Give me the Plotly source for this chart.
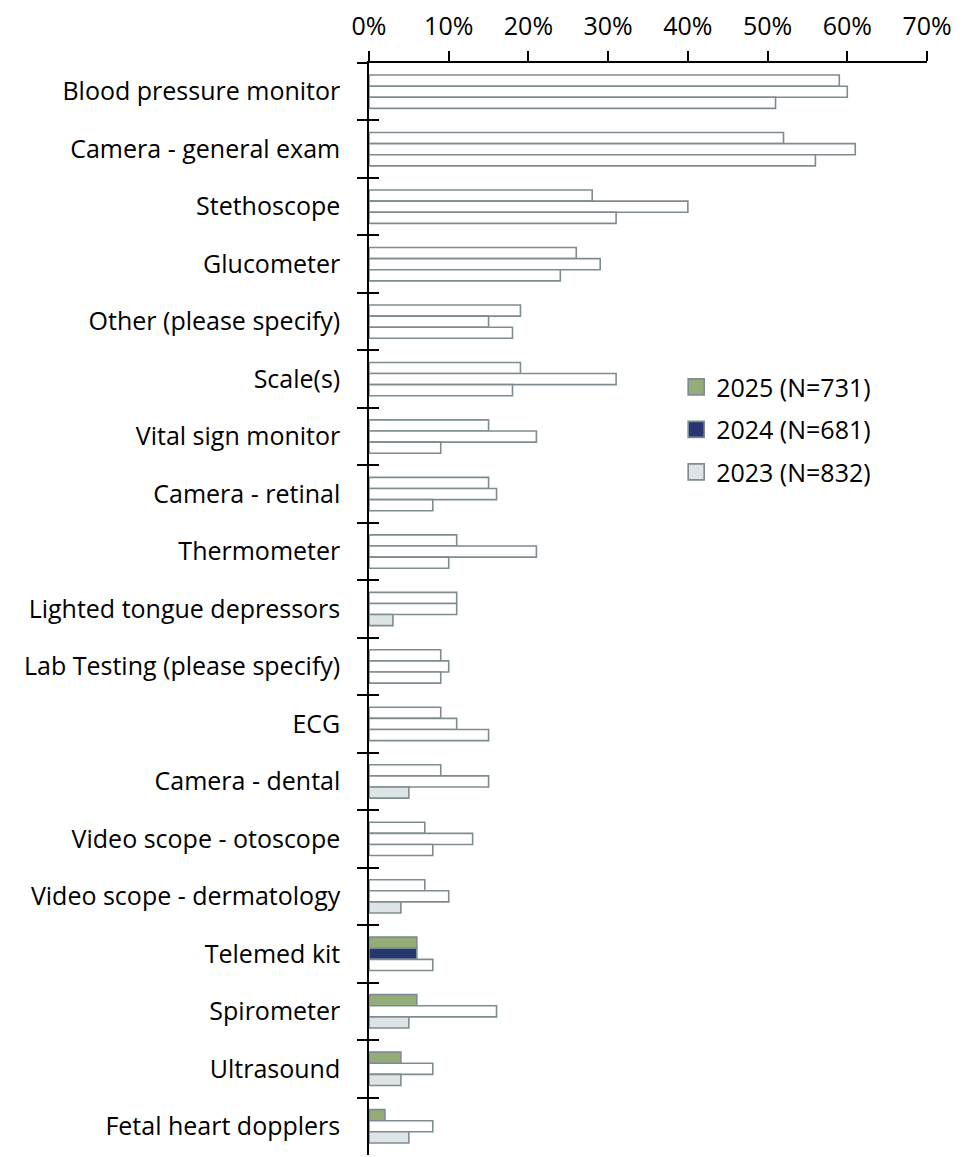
import plotly.graph_objects as go

categories = [
    "Blood pressure monitor",
    "Camera - general exam",
    "Stethoscope",
    "Glucometer",
    "Other (please specify)",
    "Scale(s)",
    "Vital sign monitor",
    "Camera - retinal",
    "Thermometer",
    "Lighted tongue depressors",
    "Lab Testing (please specify)",
    "ECG",
    "Camera - dental",
    "Video scope - otoscope",
    "Video scope - dermatology",
    "Telemed kit",
    "Spirometer",
    "Ultrasound",
    "Fetal heart dopplers",
]

pct_2025 = [59, 52, 28, 26, 19, 19, 15, 15, 11, 11, 9, 9, 9, 7, 7, 6, 6, 4, 2]
pct_2024 = [60, 61, 40, 29, 15, 31, 21, 16, 21, 11, 10, 11, 15, 13, 10, 6, 16, 8, 8]
pct_2023 = [51, 56, 31, 24, 18, 18, 9, 8, 10, 3, 9, 15, 5, 8, 4, 8, 5, 4, 5]

series_names = ["2025 (N=731)", "2024 (N=681)", "2023 (N=832)"]

# bars that are drawn filled in the original; everything else is hollow
filled_2025 = {"Telemed kit", "Spirometer", "Ultrasound", "Fetal heart dopplers"}
filled_2024 = {"Telemed kit"}
filled_2023 = {
    "Lighted tongue depressors",
    "Camera - dental",
    "Video scope - dermatology",
    "Spirometer",
    "Ultrasound",
    "Fetal heart dopplers",
}

FONT = "Open Sans"
FONT_SIZE = 25
OUTLINE = "#7f8c8f"

fig = go.Figure()

series = [
    (series_names[0], pct_2025, filled_2025, "#94ad78"),
    (series_names[1], pct_2024, filled_2024, "#253670"),
    (series_names[2], pct_2023, filled_2023, "#dde4e5"),
]

for name, values, filled, color in series:
    fills = [color if c in filled else "white" for c in categories]
    fig.add_trace(
        go.Bar(
            y=categories,
            x=values,
            orientation="h",
            name=name,
            showlegend=False,
            marker=dict(color=fills, line=dict(color=OUTLINE, width=1.6)),
        )
    )

# legend entries: square swatches in the series colour
for name, values, filled, color in series:
    fig.add_trace(
        go.Scatter(
            x=[None],
            y=[None],
            mode="markers",
            name=name,
            legendgroup=name,
            marker=dict(symbol="square", size=18, color=color,
                        line=dict(color=OUTLINE, width=1.6)),
        )
    )

# invisible trace so the second (tick-only) y axis exists
fig.add_trace(
    go.Scatter(
        x=[0] * len(categories),
        y=categories,
        yaxis="y2",
        mode="markers",
        marker=dict(size=0.1, opacity=0),
        showlegend=False,
        hoverinfo="skip",
    )
)

n = len(categories)

fig.update_layout(
    width=979,
    height=1157,
    margin=dict(l=361, r=60, t=55, b=10),
    paper_bgcolor="white",
    plot_bgcolor="white",
    barmode="group",
    bargap=0.42,
    bargroupgap=0,
    font=dict(family=FONT, size=FONT_SIZE, color="black"),
    showlegend=True,
    legend=dict(
        x=0.5505,
        y=0.7242,
        xanchor="left",
        yanchor="top",
        traceorder="grouped",
        tracegroupgap=7,
        font=dict(family=FONT, size=FONT_SIZE, color="black"),
        bgcolor="rgba(0,0,0,0)",
    ),
    xaxis=dict(
        side="top",
        range=[0, 70],
        dtick=10,
        ticksuffix="%",
        ticks="outside",
        ticklen=10,
        tickwidth=1.5,
        tickcolor="black",
        showline=True,
        linecolor="black",
        linewidth=1.5,
        showgrid=False,
        zeroline=False,
        ticklabelstandoff=6,
        automargin=False,
    ),
    yaxis=dict(
        categoryorder="array",
        categoryarray=categories,
        range=[n - 0.5, -0.5],
        tickson="boundaries",
        ticks="outside",
        ticklen=10,
        tickwidth=1.5,
        tickcolor="black",
        showline=True,
        linecolor="black",
        linewidth=1.5,
        showgrid=False,
        zeroline=False,
        ticklabelstandoff=22,
        automargin=False,
    ),
    yaxis2=dict(
        overlaying="y",
        matches="y",
        side="left",
        categoryorder="array",
        categoryarray=categories,
        tickson="boundaries",
        ticks="inside",
        ticklen=10,
        tickwidth=1.5,
        tickcolor="black",
        showticklabels=False,
        showline=False,
        showgrid=False,
        zeroline=False,
        automargin=False,
    ),
)

fig.write_html("out.html")
